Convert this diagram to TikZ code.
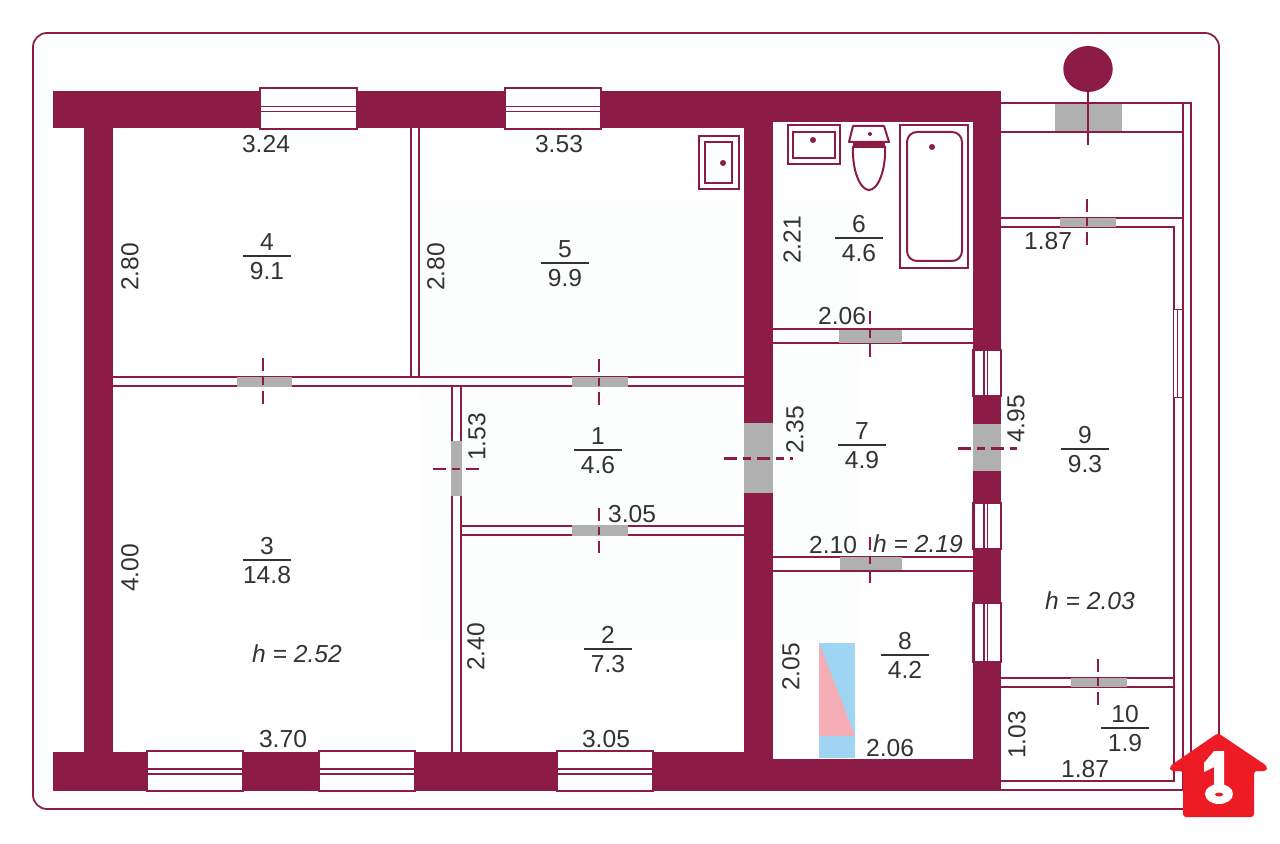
\documentclass[tikz,border=0pt]{standalone}
\usepackage{xcolor}
\usepackage{fontspec}
\usepackage{tikz}
\usetikzlibrary{shapes.geometric}
\setmainfont{Liberation Sans}

\definecolor{wallred}{HTML}{8C1C45}
\definecolor{doorgrey}{HTML}{B0B0B0}
\definecolor{textgrey}{HTML}{333333}
\definecolor{stairblue}{HTML}{9FD5F3}
\definecolor{stairpink}{HTML}{F5ADB5}
\definecolor{keyred}{HTML}{ED1C24}
\definecolor{tintgreen}{HTML}{FCFEFD}

\begin{document}
\begin{tikzpicture}[x=0.02cm, y=-0.02cm]

	% Styles
	\tikzset{
		wall/.style={fill=wallred, draw=none},
		partition/.style={fill=white, draw=wallred, line width=0.04cm},
		thinline/.style={draw=wallred, line width=0.035cm},
		windowbox/.style={fill=white, draw=wallred, line width=0.05cm},
		doorgap/.style={fill=doorgrey, draw=none},
		doortick/.style={draw=wallred, line width=0.04cm, dash pattern=on 0.26cm off 0.12cm on 0.16cm off 0.12cm},
		dimtext/.style={inner sep=0pt, text=textgrey, font=\fontsize{14}{16}\selectfont},
		roomrule/.style={draw=textgrey, line width=0.03cm},
		fixture/.style={draw=wallred, line width=0.04cm, fill=white}
	}

	% Page and outer line
	\path[use as bounding box, fill=white] (0,0) rectangle (1280,844);
	\fill[tintgreen] (420,200) rectangle (860,640);
	\draw[thinline, rounded corners=0.28cm] (33,33) rectangle (1219,809);

	% Balcony and lobby lines
	\draw[thinline] (1001,103) -- (1191,103) -- (1191,790);
	\draw[thinline] (1001,132) -- (1183,132);
	\draw[thinline] (1183,103) -- (1183,790) -- (1001,790);
	\draw[thinline] (1001,218) -- (1183,218);
	\draw[thinline] (1001,227) -- (1174,227) -- (1174,309);
	\draw[thinline] (1174,397) -- (1174,781) -- (1001,781);
	\draw[draw=wallred, line width=0.02cm] (1173,309) rectangle (1182,397) (1177,309) -- (1177,397);
	\draw[thinline] (1001,678) -- (1174,678);
	\draw[thinline] (1001,687) -- (1174,687);

	% Partitions
	\draw[partition] (411,120) rectangle (419,380);
	\draw[partition] (105,377) rectangle (750,386);
	\draw[partition] (452,386) rectangle (461,760);
	\draw[partition] (461,526) rectangle (750,535);
	\draw[partition] (765,329) rectangle (980,343);
	\draw[partition] (765,557) rectangle (980,571);

	% Walls
	\fill[wall] (53,91) rectangle (773,128);
	\fill[wall] (744,91) rectangle (1001,122);
	\fill[wall] (84,128) rectangle (113,752);
	\fill[wall] (53,752) rectangle (773,791);
	\fill[wall] (744,122) rectangle (773,752);
	\fill[wall] (773,759) rectangle (1001,791);
	\fill[wall] (973,122) rectangle (1001,759);

	% Windows
	\foreach \xa/\xb/\ya/\yb/\yc/\yd in {260/357/88/129/106.5/111.5, 505/601/88/129/106.5/111.5,
		147/243/751/791/769/774, 319/415/751/791/769/774, 557/653/751/791/769/774} {
		\draw[windowbox] (\xa,\ya) rectangle (\xb,\yb);
		\draw[thinline] (\xa,\yc) -- (\xb,\yc) (\xa,\yd) -- (\xb,\yd);
	}
	\foreach \ya/\yb in {350/396, 503/549, 603/662} {
		\draw[windowbox] (973.5,\ya) rectangle (1001,\yb);
		\draw[thinline] (984,\ya) -- (984,\yb) (987.5,\ya) -- (987.5,\yb);
	}

	% Door gaps
	\foreach \xa/\ya/\xb/\yb in {237/377/292/387, 572/377/628/387, 451/441/462/496, 572/525/628/536,
		744/423/773/493, 973/424/1001/471, 839/330/902/343, 840/557/902/570,
		1055/104/1122/131, 1060/218/1116/227, 1071/678/1127/687} {
		\fill[doorgap] (\xa,\ya) rectangle (\xb,\yb);
	}

	% Door ticks
	\foreach \xa/\ya/\xb/\yb in {263/358/263/405, 599/359/599/405, 433/469/479/469, 599/508/599/553,
		870/311/870/361, 870/537/870/588, 1087/199/1087/245, 1098/659/1098/705} {
		\draw[doortick] (\xa,\ya) -- (\xb,\yb);
	}
	\draw[doortick, line width=0.06cm] (724,458) -- (793,458);
	\draw[doortick, line width=0.06cm] (958,448) -- (1017,448);

	% Tree on the balcony
	\node (tree) [ellipse, fill=wallred, minimum width=0.99cm, minimum height=0.92cm, inner sep=0pt] at (1088,69) {};
	\coordinate (treeend) at (1088,145);
	\draw[draw=wallred, line width=0.05cm] (tree) -- (treeend);

	% Sink in room 5
	\draw[fixture] (699,136) rectangle (739,189);
	\draw[fixture, line width=0.03cm] (705,142) rectangle (732,183);
	\fill[wallred] (723,163) circle[radius=3];

	% Bathroom
	\draw[fixture] (788,125) rectangle (840,164);
	\draw[fixture, line width=0.03cm] (793,132) rectangle (835,158);
	\fill[wallred] (813,140) circle[radius=3];
	\draw[fixture] (853,147) .. controls (852,170) and (860,190) .. (869,190) .. controls (878,190) and (886,170) .. (885,147) -- cycle;
	\draw[fixture, line join=round] (853,126) -- (884,126) -- (889,142) -- (849,142) -- cycle;
	\fill[wallred] (853,142) rectangle (885,148);
	\fill[wallred] (870,134) circle[radius=2];
	\draw[fixture] (900,125) rectangle (968,268);
	\draw[fixture, rounded corners=0.2cm] (907,132) rectangle (962,261);
	\fill[wallred] (932,147) circle[radius=3];

	% Stairs in room 8
	\fill[stairblue] (819,643) rectangle (855,758);
	\fill[stairpink] (819,643) -- (855,736) -- (819,736) -- cycle;

	% Rooms: number, rule, area
	\foreach \a/\b/\x/\y in {1/4.6/598/450, 2/7.3/608/649, 3/14.8/267/560, 4/9.1/267/256, 5/9.9/565/263,
		6/4.6/859/238, 7/4.9/862/445, 8/4.2/905/655, 9/9.3/1085/449, 10/1.9/1125/728} {
		\node (num\a) [dimtext] at (\x,\y-14) {\a};
		\node (area\a) [dimtext] at (\x,\y+15) {\b};
		\draw[roomrule] (\x-24,\y) -- (\x+24,\y);
	}

	% Sizes along walls
	\foreach \t/\x/\y [count=\i] in {3.24/266/144, 3.53/559/144, 3.05/632/514, 3.70/283/739, 3.05/606/739,
		2.06/842/316, 1.87/1048/241, 2.10/833/545, 2.06/890/748, 1.87/1085/769} {
		\node (size\i) [dimtext] at (\x,\y) {\t};
	}
	\foreach \t/\x/\y [count=\i] in {2.80/130/267, 2.80/436/267, 4.00/130/568, 1.53/477/437, 2.40/476/647,
		2.21/792/240, 2.35/795/430, 4.95/1016/419, 2.05/791/667, 1.03/1017/735} {
		\node (high\i) [dimtext, rotate=90] at (\x,\y) {\t};
	}

	% Ceiling heights
	\node (h3) [dimtext, font=\fontsize{14}{16}\selectfont\itshape] at (297,654) {h = 2.52};
	\node (h7) [dimtext, font=\fontsize{14}{16}\selectfont\itshape] at (918,544) {h = 2.19};
	\node (h9) [dimtext, font=\fontsize{14}{16}\selectfont\itshape] at (1090,601) {h = 2.03};

	% Key sign
	\fill[keyred, rounded corners=0.06cm] (1218,733) -- (1267,766) -- (1267,771) -- (1254,771) -- (1254,817)
		-- (1183,817) -- (1183,771) -- (1170,771) -- (1170,766) -- cycle;
	\fill[white, line join=round] (1214,751) -- (1224,751) -- (1224,790) -- (1214,790) -- (1214,767) -- (1204,772) -- (1204,763) -- cycle;
	\fill[white] (1219,794) ellipse[x radius=14, y radius=10];
	\fill[keyred] (1219,794.5) ellipse[x radius=4, y radius=2];

\end{tikzpicture}
\end{document}
